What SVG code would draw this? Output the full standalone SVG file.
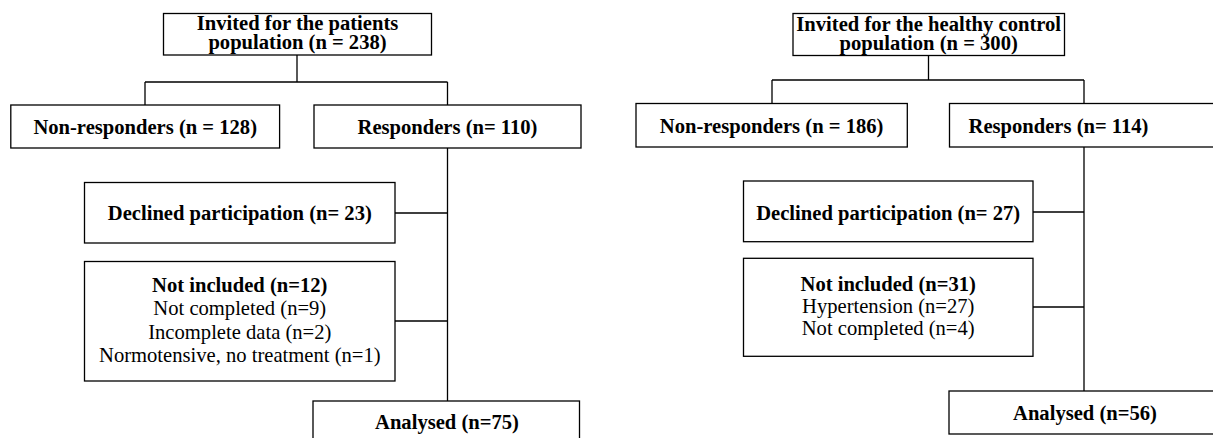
<svg xmlns="http://www.w3.org/2000/svg" width="1213" height="438" viewBox="0 0 1213 438">
<style>
  .box { fill: #fff; stroke: #000; stroke-width: 1.3; }
  .conn { fill: none; stroke: #000; stroke-width: 1.3; }
  text { font-family: "Liberation Serif", "Times New Roman", serif; font-size: 20.6px; fill: #000; text-anchor: middle; }
  .b { font-weight: bold; }
</style>
<rect width="1213" height="438" fill="#fff"/>
<g id="connectors">
  <path class="conn" d="M297,55 V82 M145,82 H447.5 M145,82 V105 M447.5,82 V105 M447.5,148 V401 M395,213 H447.5 M395,321 H447.5"/>
  <path class="conn" d="M928.5,56 V80 M772,80 H1084 M772,80 V103.5 M1084,80 V103.5 M1084,147 V391 M1033,212 H1084 M1033,307 H1084"/>
</g>
<g id="invited-patients">
  <rect class="box" x="163.5" y="13.5" width="268" height="41.5"/>
  <text class="b" x="297.5" y="30">Invited for the patients</text>
  <text class="b" x="297.5" y="48.5">population (n = 238)</text>
</g>
<g id="nonresp-patients">
  <rect class="box" x="10.8" y="105" width="268.8" height="43"/>
  <text class="b" x="145.2" y="133.5">Non-responders (n = 128)</text>
</g>
<g id="resp-patients">
  <rect class="box" x="314" y="105" width="267" height="43"/>
  <text class="b" x="447.5" y="133.5">Responders (n= 110)</text>
</g>
<g id="declined-patients">
  <rect class="box" x="84.5" y="182.5" width="310.5" height="60.5"/>
  <text class="b" x="239.8" y="220">Declined participation (n= 23)</text>
</g>
<g id="notincluded-patients">
  <rect class="box" x="84.5" y="261.5" width="310.5" height="119.5"/>
  <text class="b" x="239.8" y="292">Not included (n=12)</text>
  <text x="239.8" y="315">Not completed (n=9)</text>
  <text x="239.8" y="338.5">Incomplete data (n=2)</text>
  <text x="239.8" y="361.5">Normotensive, no treatment (n=1)</text>
</g>
<g id="analysed-patients">
  <rect class="box" x="313" y="401" width="266.5" height="43"/>
  <text class="b" x="447" y="428.5">Analysed (n=75)</text>
</g>
<g id="invited-controls">
  <rect class="box" x="793" y="13.5" width="271.5" height="42"/>
  <text class="b" x="928.7" y="31">Invited for the healthy control</text>
  <text class="b" x="928.7" y="50">population (n = 300)</text>
</g>
<g id="nonresp-controls">
  <rect class="box" x="636" y="103.5" width="271.3" height="43.5"/>
  <text class="b" x="771.6" y="132.5">Non-responders (n = 186)</text>
</g>
<g id="resp-controls">
  <rect class="box" x="949.5" y="103.5" width="269" height="43.5"/>
  <text class="b" x="1058.5" y="132.5">Responders (n= 114)</text>
</g>
<g id="declined-controls">
  <rect class="box" x="743.5" y="181" width="289.5" height="60.7"/>
  <text class="b" x="888.2" y="219.5">Declined participation (n= 27)</text>
</g>
<g id="notincluded-controls">
  <rect class="box" x="743.5" y="258.3" width="289.5" height="98"/>
  <text class="b" x="888.2" y="291">Not included (n=31)</text>
  <text x="888.2" y="313.3">Hypertension (n=27)</text>
  <text x="888.2" y="335.3">Not completed (n=4)</text>
</g>
<g id="analysed-controls">
  <rect class="box" x="949" y="391" width="272" height="43"/>
  <text class="b" x="1085" y="420">Analysed (n=56)</text>
</g>
</svg>
